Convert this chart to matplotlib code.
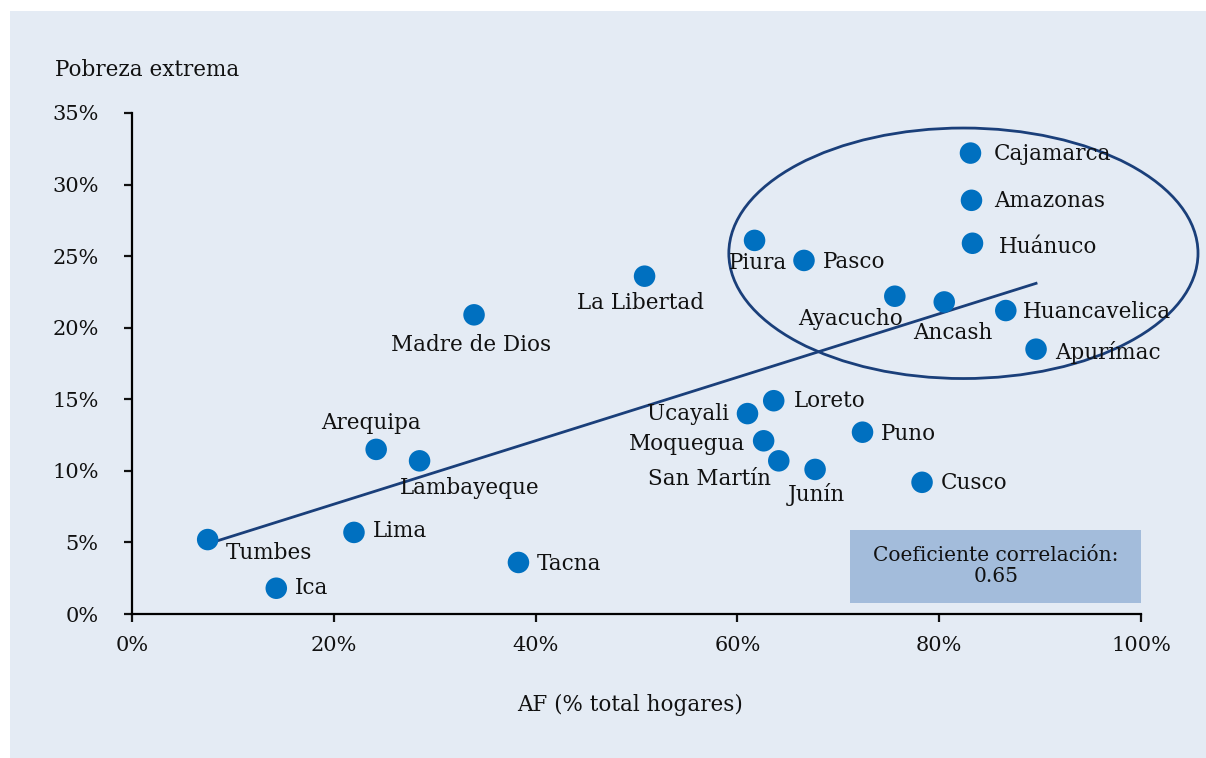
import matplotlib.pyplot as plt
from matplotlib.patches import Ellipse, Rectangle
from matplotlib.ticker import FuncFormatter

plt.rcParams['font.family'] = ['DejaVu Serif']

regiones = ['Tumbes', 'Ica', 'Lima', 'Tacna', 'Arequipa', 'Lambayeque', 'Madre de Dios',
            'La Libertad', 'Piura', 'Pasco', 'Cajamarca', 'Amazonas', 'Huánuco', 'Ayacucho',
            'Ancash', 'Huancavelica', 'Apurímac', 'Loreto', 'Ucayali', 'Moquegua',
            'San Martín', 'Junín', 'Puno', 'Cusco']
af = [7.5, 14.3, 22.0, 38.3, 24.2, 28.5, 33.9, 50.8, 61.7, 66.6, 83.1, 83.2, 83.3, 75.6,
      80.5, 86.6, 89.6, 63.6, 61.0, 62.6, 64.1, 67.7, 72.4, 78.3]
pobreza = [5.2, 1.8, 5.7, 3.6, 11.5, 10.7, 20.9, 23.6, 26.1, 24.7, 32.2, 28.9, 25.9, 22.2,
           21.8, 21.2, 18.5, 14.9, 14.0, 12.1, 10.7, 10.1, 12.7, 9.2]

# tendencia (extremos de la recta)
trend_x = [7.5, 89.6]
trend_y = [4.9, 23.1]
correlacion = 0.65

# label offsets in pixels: dx, dy, ha
offsets = {
    'Tumbes': (18, -13, 'left'), 'Ica': (19, 0, 'left'), 'Lima': (19, 1, 'left'),
    'Tacna': (18, -2, 'left'), 'Arequipa': (-5, 26, 'center'),
    'Lambayeque': (50, -27, 'center'), 'Madre de Dios': (-3, -30, 'center'),
    'La Libertad': (-4, -27, 'center'), 'Piura': (3, -23, 'center'),
    'Pasco': (19, -2, 'left'), 'Cajamarca': (23, -1, 'left'),
    'Amazonas': (23, -1, 'left'), 'Huánuco': (26, -4, 'left'),
    'Ayacucho': (8, -23, 'right'), 'Ancash': (9, -31, 'center'),
    'Huancavelica': (17, -1, 'left'), 'Apurímac': (19, -3, 'left'),
    'Loreto': (20, 0, 'left'), 'Ucayali': (-18, 0, 'right'),
    'Moquegua': (-19, -3, 'right'), 'San Martín': (-8, -18, 'right'),
    'Junín': (1, -25, 'center'), 'Puno': (18, -2, 'left'), 'Cusco': (19, -1, 'left'),
}

fig = plt.figure(figsize=(12.06, 7.58), dpi=100, facecolor='white')
# light blue panel behind everything
fig.patches.append(Rectangle((10 / 1206, 0), 1, 1 - 11 / 758, transform=fig.transFigure,
                             facecolor='#e4ebf4', edgecolor='none', zorder=-10))

ax = fig.add_axes([132 / 1206, 1 - 614 / 758, (1141 - 132) / 1206, (614 - 113) / 758])
ax.set_facecolor('none')
ax.set_xlim(0, 100)
ax.set_ylim(0, 35)

ax.plot(trend_x, trend_y, color='#1a3f7a', lw=2.0, zorder=2)
ax.scatter(af, pobreza, s=240, color='#0070c0', edgecolors='none', zorder=3)

for name, x, y in zip(regiones, af, pobreza):
    dx, dy, ha = offsets[name]
    ax.annotate(name, (x, y), xytext=(dx, dy), textcoords='offset pixels',
                ha=ha, va='center', fontsize=15.5, color='#111111', zorder=4)

ell = Ellipse((82.4, 25.2), 46.5, 17.5, facecolor='none', edgecolor='#1a3f7a',
              lw=2.0, clip_on=False, zorder=2)
ax.add_patch(ell)

# cuadro de correlacion
box = Rectangle((71.2, 0.8), 28.9, 5.1, facecolor='#a3bcdb', edgecolor='none', zorder=1)
ax.add_patch(box)
ax.text(85.6, 3.35, 'Coeficiente correlación:\n' + f'{correlacion:.2f}', ha='center',
        va='center', fontsize=14.5, linespacing=1.15, color='#111111', zorder=4)

for s in ['top', 'right']:
    ax.spines[s].set_visible(False)
for s in ['left', 'bottom']:
    ax.spines[s].set_linewidth(1.6)
ax.set_xticks(range(0, 101, 20))
ax.set_yticks(range(0, 36, 5))
ax.xaxis.set_major_formatter(FuncFormatter(lambda v, p: f'{v:.0f}%'))
ax.yaxis.set_major_formatter(FuncFormatter(lambda v, p: f'{v:.0f}%'))
ax.tick_params(axis='both', direction='out', length=6, width=1.6, labelsize=15,
               colors='#111111')
ax.tick_params(axis='x', pad=10)
ax.tick_params(axis='y', pad=18)

fig.text(55 / 1206, 1 - 70 / 758, 'Pobreza extrema', ha='left', va='center',
         fontsize=15.5, color='#111111')
fig.text(630 / 1206, 1 - 705 / 758, 'AF (% total hogares)', ha='center', va='center',
         fontsize=15.5, color='#111111')

fig.savefig('out.png', dpi=100, facecolor='white')
